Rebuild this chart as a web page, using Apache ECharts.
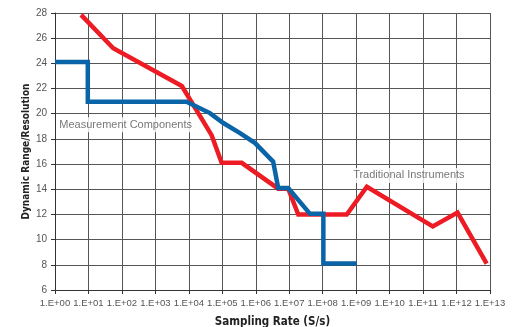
<!DOCTYPE html>
<html><head><meta charset="utf-8">
<script src="https://cdn.jsdelivr.net/npm/echarts@6/dist/echarts.min.js"></script>
<style>html,body{margin:0;padding:0;background:#fff}#c{width:516px;height:327px}</style>
</head><body><div id="c"></div>
<script>
const xTickLabels = ['1.E+00','1.E+01','1.E+02','1.E+03','1.E+04','1.E+05','1.E+06','1.E+07','1.E+08','1.E+09','1.E+10','1.E+11','1.E+12','1.E+13'];
// x values are log10(sampling rate)
const redX = [0.78, 1.74, 3.79, 4.68, 4.98, 5.58, 6.67, 6.97, 7.27, 8.72, 9.32, 11.29, 12.03, 12.9];
const redY = [27.85, 25.2, 22.2, 18.3, 16.1, 16.1, 14.05, 14.05, 12.0, 12.0, 14.2, 11.05, 12.15, 8.1];
const blueX = [0, 0.98, 0.98, 3.93, 4.63, 5.03, 5.53, 5.98, 6.52, 6.67, 6.97, 7.62, 8.02, 8.02, 9.02];
const blueY = [24.1, 24.1, 20.95, 20.95, 20.05, 19.26, 18.46, 17.67, 16.2, 14.1, 14.1, 12.05, 12.05, 8.1, 8.1];
const seriesNames = ['Traditional Instruments', 'Measurement Components'];
const labelPosRed = [8.85, 15.1];
const labelPosBlue = [0.07, 19.12];

const zip = (xs, ys) => xs.map((x, i) => [x, ys[i]]);
const titleFont = "'DejaVu Sans Condensed', 'Liberation Sans', sans-serif";
const font = "'Liberation Sans', Arial, sans-serif";
const chart = echarts.init(document.getElementById('c'), null, {renderer: 'canvas'});
function textSeries(pos, name) {
  return { type: 'scatter', name: name + ' label', data: [pos], symbol: 'circle', symbolSize: 2, silent: true, z: 5,
    itemStyle: { color: 'rgba(255,255,255,0)' },
    label: { show: true, position: 'right', distance: 0, formatter: name, color: '#555', fontSize: 11, fontFamily: font,
      backgroundColor: '#fff', padding: [2, 1] } };
}
chart.setOption({
  animation: false,
  grid: { left: 55, right: 26, top: 13, bottom: 37, containLabel: false, outerBoundsMode: 'none' },
  xAxis: {
    type: 'value', min: 0, max: 13, interval: 1,
    name: 'Sampling Rate (S/s)', nameLocation: 'middle', nameGap: 26, nameMoveOverlap: false,
    nameTextStyle: { fontFamily: titleFont, fontWeight: 'bold', fontSize: 11.5, color: '#222' },
    axisLine: { show: true, lineStyle: { color: '#333', width: 1 } },
    axisTick: { show: true, length: 4, lineStyle: { color: '#333' } },
    axisLabel: { formatter: v => xTickLabels[Math.round(v)], fontFamily: font, fontSize: 9.5, color: '#555', margin: 8 },
    splitLine: { show: true, lineStyle: { color: '#555', width: 1 } }
  },
  yAxis: {
    type: 'value', min: 6, max: 28, interval: 2,
    name: 'Dynamic Range/Resolution', nameLocation: 'middle', nameGap: 24, nameMoveOverlap: false,
    nameTextStyle: { fontFamily: titleFont, fontWeight: 'bold', fontSize: 10, color: '#222' },
    axisLine: { show: true, lineStyle: { color: '#333', width: 1 } },
    axisTick: { show: true, length: 4, lineStyle: { color: '#333' } },
    axisLabel: { fontFamily: font, fontSize: 10, color: '#555', margin: 8 },
    splitLine: { show: true, lineStyle: { color: '#555', width: 1 } }
  },
  series: [
    { name: seriesNames[0], type: 'line', data: zip(redX, redY), symbol: 'none', z: 3,
      lineStyle: { color: '#ed1c24', width: 4.5, join: 'miter', cap: 'butt' } },
    { name: seriesNames[1], type: 'line', data: zip(blueX, blueY), symbol: 'none', z: 4,
      lineStyle: { color: '#0a64a8', width: 4.5, join: 'miter', cap: 'butt' } },
    textSeries(labelPosRed, seriesNames[0]),
    textSeries(labelPosBlue, seriesNames[1])
  ]
});
</script></body></html>
